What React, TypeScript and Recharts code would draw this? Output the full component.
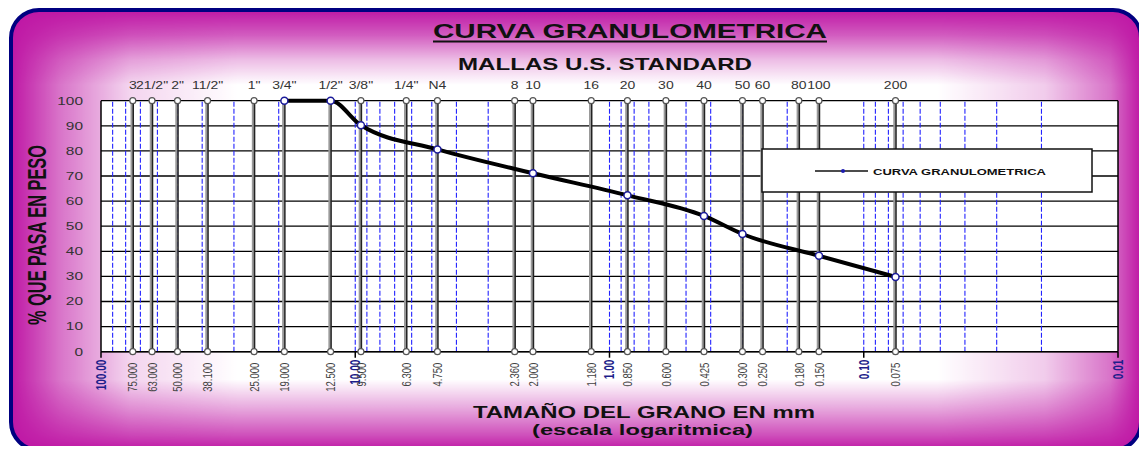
import React from 'react';
import {
  CartesianGrid,
  ComposedChart,
  Line,
  ReferenceLine,
  Scatter,
  XAxis,
  YAxis,
} from 'recharts';

const SIEVE_NAMES = ['3', '21/2"', '2"', '11/2"', '1"', '3/4"', '1/2"', '3/8"', '1/4"', 'N4', '8', '10', '16', '20', '30', '40', '50', '60', '80', '100', '200'];
const SIEVE_MM = [75, 63, 50, 38.1, 25, 19, 12.5, 9.5, 6.3, 4.75, 2.36, 2.0, 1.18, 0.85, 0.6, 0.425, 0.3, 0.25, 0.18, 0.15, 0.075];

const CURVE_MM = [19, 12.5, 9.5, 4.75, 2.0, 0.85, 0.425, 0.3, 0.15, 0.075];
const CURVE_PASA = [100, 100, 90.2, 80.6, 71.1, 62.3, 54.1, 46.9, 38.2, 29.8];

const DECADES = [100, 10, 1, 0.1, 0.01];
const LOG_GRID = [
  90, 80, 70, 60, 50, 40, 30, 20, 10,
  9, 8, 7, 6, 5, 4, 3, 2, 1,
  0.9, 0.8, 0.7, 0.6, 0.5, 0.4, 0.3, 0.2, 0.1,
  0.09, 0.08, 0.07, 0.06, 0.05, 0.04, 0.03, 0.02,
];
const Y_TICKS = [0, 10, 20, 30, 40, 50, 60, 70, 80, 90, 100];

const curve = CURVE_MM.map((mm, i) => ({ mm, pasa: CURVE_PASA[i] }));
const sieveDots = SIEVE_MM.flatMap((mm) => [
  { mm, pasa: 0 },
  { mm, pasa: 100 },
]);

const FONT = '"Liberation Sans", Arial, sans-serif';
const MAGENTA = '#bf17a5';

// fade of the white centre towards the magenta frame: [offset, opacity]
const FADE_X: [number, number][] = [[0, 0], [0.043, 0.4], [0.105, 0.82], [0.2, 1], [0.82, 1], [0.915, 0.78], [0.973, 0.4], [1, 0]];
const FADE_Y: [number, number][] = [[0, 0], [0.057, 0.3], [0.114, 0.72], [0.17, 1], [0.84, 1], [0.91, 0.6], [0.966, 0.25], [1, 0]];

const TopTick = (props: any) => {
  const { x, y, payload } = props;
  const i = SIEVE_MM.indexOf(payload.value);
  return (
    <text
      transform={`translate(${x},${y}) scale(1.4,1)`}
      textAnchor="middle"
      fontSize={10}
      fill="#333"
      fontFamily={FONT}
    >
      {SIEVE_NAMES[i]}
    </text>
  );
};

const BottomTick = (props: any) => {
  const { x, y, payload } = props;
  const v = payload.value;
  if (DECADES.includes(v)) {
    return (
      <g>
        <line x1={x} x2={x} y1={y} y2={y + 6} stroke="#000" strokeWidth={1.5} />
        <text
          transform={`translate(${x},${y + 8}) rotate(-90) scale(1,1.4)`}
          textAnchor="end"
          dy="0.35em"
          fontSize={10}
          fontWeight="bold"
          fill="#1e1e8a"
          fontFamily={FONT}
        >
          {v.toFixed(2)}
        </text>
      </g>
    );
  }
  return (
    <text
      transform={`translate(${x},${y + 11}) rotate(-90) scale(1,1.4)`}
      textAnchor="end"
      dy="0.35em"
      fontSize={9.5}
      fill="#444"
      fontFamily={FONT}
    >
      {v.toFixed(3)}
    </text>
  );
};

const LeftTick = (props: any) => {
  const { x, y, payload } = props;
  return (
    <text
      transform={`translate(${x},${y}) scale(1.4,1)`}
      textAnchor="end"
      dy="0.35em"
      fontSize={11}
      fill="#333"
      fontFamily={FONT}
    >
      {payload.value}
    </text>
  );
};

const SieveLine = (props: any) => {
  const { x1, y1, y2 } = props;
  return (
    <g>
      <line x1={x1 - 1} x2={x1 - 1} y1={y1} y2={y2} stroke="#999" strokeWidth={2.5} />
      <line x1={x1 + 0.5} x2={x1 + 0.5} y1={y1} y2={y2} stroke="#222" strokeWidth={1.5} />
    </g>
  );
};

const SieveDot = (props: any) => (
  <circle cx={props.cx} cy={props.cy} r={3} fill="#fff" stroke="#555" strokeWidth={1.2} />
);

const App = () => {
  return (
    <div style={{ position: 'relative', width: 1131, height: 438 }}>
      <svg width={1147} height={454} style={{ position: 'absolute', left: -8, top: -8 }}>
        <defs>
          <linearGradient id="gx" gradientUnits="userSpaceOnUse" x1={11} y1={0} x2={1141} y2={0}>
            {FADE_X.map(([o, a]) => (
              <stop key={o} offset={o} stopColor="#fff" stopOpacity={a} />
            ))}
          </linearGradient>
          <linearGradient id="gy" gradientUnits="userSpaceOnUse" x1={0} y1={10} x2={0} y2={450}>
            {FADE_Y.map(([o, a]) => (
              <stop key={o} offset={o} stopColor="#fff" stopOpacity={a} />
            ))}
          </linearGradient>
          <mask id="mx" maskUnits="userSpaceOnUse" x={0} y={0} width={1147} height={454}>
            <rect x={0} y={0} width={1147} height={454} fill="url(#gx)" />
          </mask>
          <mask id="my" maskUnits="userSpaceOnUse" x={0} y={0} width={1147} height={454}>
            <rect x={0} y={0} width={1147} height={454} fill="url(#gy)" />
          </mask>
        </defs>
        <rect x={11} y={10} width={1130} height={440} rx={28} fill={MAGENTA} />
        <g mask="url(#mx)">
          <rect x={11} y={10} width={1130} height={440} fill="#fff" mask="url(#my)" />
        </g>
        <rect x={11} y={10} width={1130} height={440} rx={28} fill="none" stroke="#000080" strokeWidth={4} />
      </svg>

      <div style={{ position: 'absolute', left: -8, top: -8 }}>
        <ComposedChart
          width={1147}
          height={454}
          margin={{ top: 70.7, right: 29, bottom: 52.3, left: 41 }}
        >
          <CartesianGrid vertical={false} stroke="#000" strokeWidth={1.3} fill="#fff" fillOpacity={1} />
          <XAxis
            dataKey="mm"
            type="number"
            scale="log"
            domain={[0.01, 100]}
            allowDataOverflow
            reversed
            ticks={[...DECADES, ...SIEVE_MM]}
            interval={0}
            tick={<BottomTick />}
            tickLine={false}
            tickSize={0}
            tickMargin={0}
            height={50}
            axisLine={{ stroke: '#000', strokeWidth: 1.5 }}
          />
          <XAxis
            xAxisId="top"
            orientation="top"
            dataKey="mm"
            type="number"
            scale="log"
            domain={[0.01, 100]}
            allowDataOverflow
            reversed
            ticks={SIEVE_MM}
            interval={0}
            tick={<TopTick />}
            tickLine={false}
            tickSize={0}
            tickMargin={12}
            height={30}
            axisLine={false}
          />
          <YAxis
            dataKey="pasa"
            type="number"
            domain={[0, 100]}
            ticks={Y_TICKS}
            interval={0}
            tick={<LeftTick />}
            tickLine={false}
            tickSize={0}
            tickMargin={18}
            width={60}
            axisLine={{ stroke: '#000', strokeWidth: 1.5 }}
          />
          {LOG_GRID.map((v) => (
            <ReferenceLine key={`g${v}`} x={v} stroke="#2323ff" strokeWidth={1.1} strokeDasharray="5 2" />
          ))}
          <ReferenceLine x={0.01} stroke="#000" strokeWidth={1.5} />
          {SIEVE_MM.map((v) => (
            <ReferenceLine key={`s${v}`} x={v} shape={<SieveLine />} />
          ))}
          <Scatter data={sieveDots} shape={<SieveDot />} isAnimationActive={false} />
          <Line
            data={curve}
            dataKey="pasa"
            type="monotone"
            stroke="#000"
            strokeWidth={4}
            dot={{ r: 3.5, fill: '#fff', stroke: '#1c1c9c', strokeWidth: 1.5 }}
            isAnimationActive={false}
          />
        </ComposedChart>
      </div>

      <svg
        width={1147}
        height={454}
        style={{ position: 'absolute', left: -8, top: -8, pointerEvents: 'none' }}
        fontFamily={FONT}
      >
        <text x={433} y={38} textLength={394} lengthAdjust="spacingAndGlyphs" fontSize={21} fontWeight="bold" fill="#111">
          CURVA GRANULOMETRICA
        </text>
        <line x1={433} x2={827} y1={41.5} y2={41.5} stroke="#111" strokeWidth={2} />
        <text x={458} y={70} textLength={294} lengthAdjust="spacingAndGlyphs" fontSize={17} fontWeight="bold" fill="#111">
          MALLAS U.S. STANDARD
        </text>
        <text
          transform="translate(46,235) rotate(-90) scale(1,1.4)"
          textAnchor="middle"
          textLength={180}
          lengthAdjust="spacingAndGlyphs"
          fontSize={19}
          fontWeight="bold"
          fill="#111"
        >
          % QUE PASA EN PESO
        </text>
        <text x={473} y={418} textLength={342} lengthAdjust="spacingAndGlyphs" fontSize={17} fontWeight="bold" fill="#111">
          TAMAÑO DEL GRANO EN mm
        </text>
        <text x={532} y={435} textLength={221} lengthAdjust="spacingAndGlyphs" fontSize={15} fontWeight="bold" fill="#111">
          (escala logaritmica)
        </text>

        <rect x={762} y={149} width={330} height={43} fill="#fff" stroke="#111" strokeWidth={1.5} />
        <line x1={815} x2={868} y1={171} y2={171} stroke="#111" strokeWidth={1.5} />
        <circle cx={843} cy={171} r={2} fill="#1c1cb0" />
        <text x={873} y={174.5} textLength={173} lengthAdjust="spacingAndGlyphs" fontSize={9.5} fontWeight="bold" fill="#111">
          CURVA GRANULOMETRICA
        </text>
      </svg>
    </div>
  );
};

export default App;
